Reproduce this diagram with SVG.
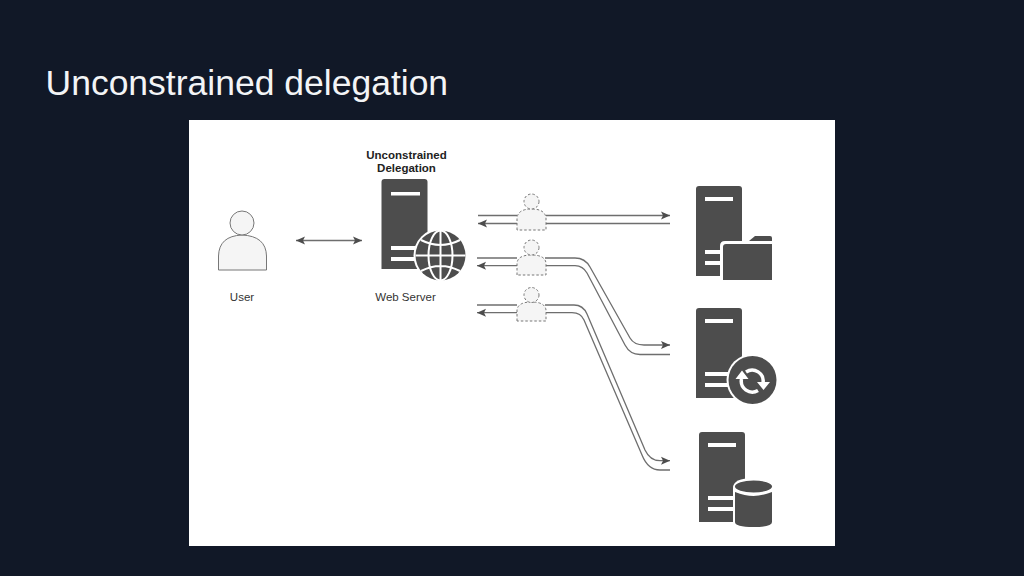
<svg xmlns="http://www.w3.org/2000/svg" width="1024" height="576" viewBox="0 0 1024 576">
<style>
text{font-family:"Liberation Sans",Arial,sans-serif}
.lab{font-size:11.500px;fill:#333;text-anchor:middle}
.b{font-size:11.500px;font-weight:bold;fill:#222;text-anchor:middle}
.srv{fill:#4d4d4d}
.w{fill:#fff}
.c{fill:none;stroke:#6e6e6e;stroke-width:1.300}
.g{fill:#f5f5f5;stroke:#777;stroke-width:1;stroke-dasharray:2.500 2}
.wl{fill:none;stroke:#fff;stroke-width:2}
</style>
<defs>
<marker id="a" markerUnits="userSpaceOnUse" markerWidth="10" markerHeight="9" refX="9" refY="4.500" orient="auto-start-reverse"><path d="M0 0.500L9 4.500L0 8.500L2 4.500Z" fill="#4d4d4d"/></marker>
<path id="server" class="srv" d="M3 0H43Q46 0 46 3V90H0V3Q0 0 3 0Z"/>
</defs>
<rect width="1024" height="576" fill="#111827"/>
<text x="45.500" y="95" font-size="35.500" fill="#f3f4f6">Unconstrained delegation</text>
<rect x="189" y="120" width="646" height="426" fill="#fff"/>

<g id="connectors">
<path class="c" marker-start="url(#a)" marker-end="url(#a)" d="M296 240.500H362"/>
<path class="c" d="M478 215.500H517"/>
<path class="c" marker-end="url(#a)" d="M546 215.500H670"/>
<path class="c" marker-start="url(#a)" d="M478 223.500H517"/>
<path class="c" d="M546 223.500H670"/>
<path class="c" d="M477 258H517"/>
<path class="c" marker-end="url(#a)" d="M545 258H575Q585 258 590 267L630 338Q634 345 644 345H670"/>
<path class="c" marker-start="url(#a)" d="M477 265.700H517"/>
<path class="c" d="M545 265.700H575Q583 266 587 273L625 345Q630 354.500 640 354.500H670"/>
<path class="c" d="M477 305H517"/>
<path class="c" marker-end="url(#a)" d="M545 305H574Q583 305 587 314L645 450Q650 460.700 660 460.700H670"/>
<path class="c" marker-start="url(#a)" d="M477 312.700H517"/>
<path class="c" d="M545 312.700H572Q581 313 584 320L642 455Q648 470 660 470H670"/>
</g>

<g id="user">
<path d="M218.500 270V256Q219 236 242 235Q266 236 266.500 256V270Z" fill="#f5f5f5" stroke="#777"/>
<circle cx="242" cy="223" r="12" fill="#f5f5f5" stroke="#777"/>
<text class="lab" x="242" y="301">User</text>
</g>

<g id="web-server">
<text class="b" x="406.500" y="159">Unconstrained</text>
<text class="b" x="406.500" y="172">Delegation</text>
<use href="#server" x="381.500" y="179" transform="translate(0,0)"/>
<rect class="w" x="391" y="192" width="29" height="3.500"/>
<rect class="w" x="391" y="246" width="30" height="4"/>
<rect class="w" x="391" y="257" width="30" height="4"/>
<circle cx="440.500" cy="255.500" r="27" class="w"/>
<circle cx="440.500" cy="255.500" r="25" class="srv"/>
<g class="wl">
<ellipse cx="440.500" cy="255.500" rx="12" ry="25"/>
<path d="M440.500 230V280M415.500 255.500H465.500M421 240Q440.500 250 460 240M421 271Q440.500 261 460 271"/>
</g>
<text class="lab" x="405.500" y="301">Web Server</text>
</g>

<g id="ticket-1">
<path class="g" d="M517 230V218Q518 209 531.500 209Q545 209 546 218V230Z"/>
<circle class="g" cx="531.500" cy="201.500" r="7.500"/>
</g>
<g id="ticket-2">
<path class="g" d="M517 275V263Q518 255 531.500 255Q545 255 546 263V275Z"/>
<circle class="g" cx="531.500" cy="247.500" r="7.500"/>
</g>
<g id="ticket-3">
<path class="g" d="M517 321V310Q518 302 531.500 302Q545 302 546 310V321Z"/>
<circle class="g" cx="531.500" cy="295" r="7.500"/>
</g>

<g id="file-server">
<use href="#server" x="696" y="186"/>
<rect class="w" x="705" y="197" width="28" height="4"/>
<rect class="w" x="705" y="250" width="20" height="4"/>
<rect class="w" x="705" y="261" width="20" height="4"/>
<path class="w" d="M720 282V246Q720 241 725 241H775V282Z"/>
<path class="srv" d="M723 280V247Q723 244 726 244H772V280Z"/>
<path class="srv" d="M749 241L755 236H770Q772 236 772 238V241Z"/>
</g>

<g id="sync-server">
<use href="#server" x="696" y="308"/>
<rect class="w" x="705" y="319" width="28" height="4"/>
<rect class="w" x="705" y="372" width="26" height="4"/>
<rect class="w" x="705" y="383" width="26" height="4"/>
<circle cx="752.500" cy="380" r="26" class="w"/>
<circle cx="752.500" cy="380" r="24" class="srv"/>
<path class="wl" style="stroke-width:3.500" d="M746 372A11 11 0 0 1 763 383M741.500 379A11 11 0 0 0 758 390.500"/>
<path class="w" d="M735.500 379L742 370.500L748.500 379ZM757 382H770L763.500 390Z"/>
</g>

<g id="db-server">
<use href="#server" x="699" y="432"/>
<rect class="w" x="708" y="443" width="28" height="4"/>
<rect class="w" x="708" y="496" width="26" height="4"/>
<rect class="w" x="708" y="507" width="26" height="4"/>
<path class="w" d="M733 488Q733 478 753.500 478Q774 478 774 488V529H733Z"/>
<path class="srv" d="M735 492V522Q735 527 753.500 527Q772 527 772 522V492Q762 496 753.500 496Q745 496 735 492Z"/>
<ellipse class="srv" cx="753.500" cy="486.500" rx="18.500" ry="6"/>
</g>
</svg>
